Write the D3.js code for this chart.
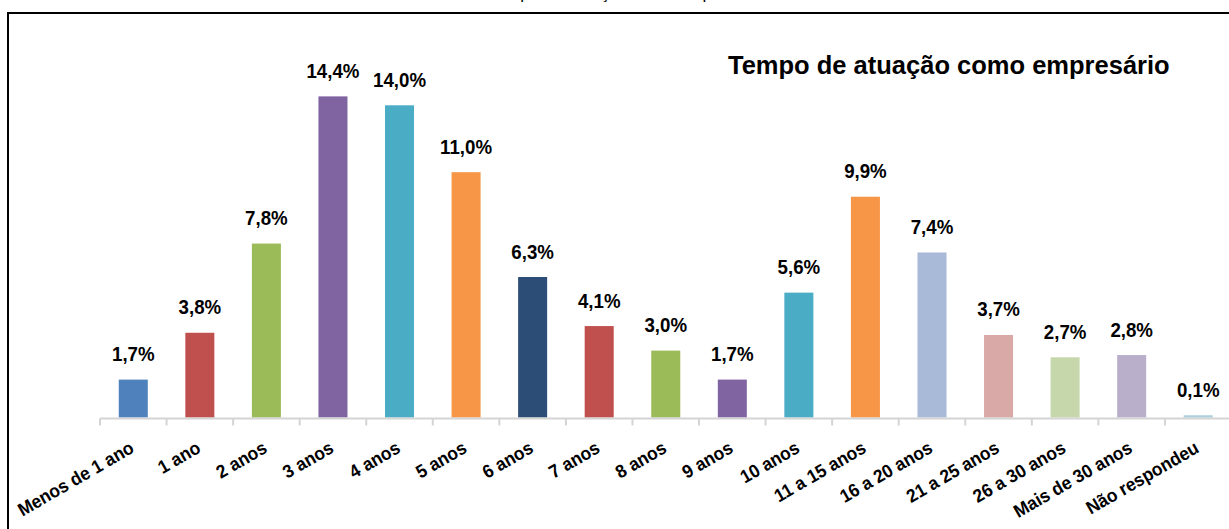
<!DOCTYPE html>
<html>
<head>
<meta charset="utf-8">
<script src="https://cdn.jsdelivr.net/npm/d3@7"></script>
<style>
  html, body { margin: 0; padding: 0; background: #fff; }
  svg { display: block; }
  text { font-family: "Liberation Sans", Arial, sans-serif; }
</style>
</head>
<body>
<svg id="chart" width="1229" height="529"></svg>
<script>
// Tempo de atuação como empresário — distribuição percentual
const categories = [
  "Menos de 1 ano", "1 ano", "2 anos", "3 anos", "4 anos", "5 anos",
  "6 anos", "7 anos", "8 anos", "9 anos", "10 anos", "11 a 15 anos",
  "16 a 20 anos", "21 a 25 anos", "26 a 30 anos", "Mais de 30 anos",
  "Não respondeu"
];
const values = [1.7, 3.8, 7.8, 14.4, 14.0, 11.0, 6.3, 4.1, 3.0, 1.7, 5.6, 9.9, 7.4, 3.7, 2.7, 2.8, 0.1];
const colors = [
  "#4F81BD", "#C0504D", "#9BBB59", "#8064A2", "#4BACC6", "#F79646",
  "#2C4D75", "#C0504D", "#9BBB59", "#8064A2", "#4BACC6", "#F79646",
  "#A9B9D8", "#D9A9A8", "#C6D7AB", "#B9AFCB", "#A8D0DD"
];
const figureCaption = "Gráfico 13 – Tempo de atuação como empresário";
const chartTitle = "Tempo de atuação como empresário";

const fmt = v => d3.format(".1f")(v).replace(".", ",") + "%";

const svg = d3.select("#chart");

// Caption sitting above the framed chart (runs off the top of the page)
svg.append("text")
  .attr("x", 764).attr("y", -1)
  .attr("text-anchor", "end")
  .attr("font-size", 17)
  .attr("fill", "#000")
  .text(figureCaption);

// Chart frame
svg.append("rect")
  .attr("x", 8).attr("y", 13)
  .attr("width", 1240).attr("height", 540)
  .attr("fill", "none")
  .attr("stroke", "#000")
  .attr("stroke-width", 2);

const x0 = 100, x1 = 1231.5, baseY = 417.5;

// Category slots (tick marks between categories) and bars inside them
const xSlot = d3.scaleBand().domain(categories).range([x0, x1]).padding(0);
const xBar = d3.scaleBand().domain(categories).range([x0, x1])
  .paddingInner(0.564).paddingOuter(0.282);
const y = d3.scaleLinear().domain([0, 16]).range([baseY, baseY - 16 * 22.3]);

// Bars
svg.append("g").selectAll("rect")
  .data(categories)
  .join("rect")
  .attr("x", d => xBar(d))
  .attr("width", xBar.bandwidth())
  .attr("y", (d, i) => y(values[i]))
  .attr("height", (d, i) => y(0) - y(values[i]))
  .attr("fill", (d, i) => colors[i]);

// Value labels (narrow bold face)
svg.append("g").selectAll("text")
  .data(categories)
  .join("text")
  .attr("transform", (d, i) =>
    `translate(${xBar(d) + xBar.bandwidth() / 2},${y(values[i]) - 18.5}) scale(0.89,1)`)
  .attr("text-anchor", "middle")
  .attr("font-size", 21)
  .attr("font-weight", "bold")
  .attr("fill", "#000")
  .text((d, i) => fmt(values[i]));

// Category axis
const axisG = svg.append("g");
axisG.append("line")
  .attr("x1", x0).attr("x2", x1)
  .attr("y1", baseY + 1).attr("y2", baseY + 1)
  .attr("stroke", "#D4D4D4").attr("stroke-width", 2);
axisG.selectAll("line.tick")
  .data(categories)
  .join("line")
  .attr("class", "tick")
  .attr("x1", d => xSlot(d)).attr("x2", d => xSlot(d))
  .attr("y1", baseY + 1).attr("y2", baseY + 8)
  .attr("stroke", "#D4D4D4").attr("stroke-width", 2);

axisG.selectAll("text")
  .data(categories)
  .join("text")
  .attr("transform", d =>
    `translate(${xSlot(d) + xSlot.bandwidth() / 2 + 2},${baseY + 34}) rotate(-30) scale(0.94,1)`)
  .attr("text-anchor", "end")
  .attr("font-size", 18.5)
  .attr("font-weight", "bold")
  .attr("fill", "#000")
  .text(d => d);

// Chart title
svg.append("text")
  .attr("x", 728).attr("y", 74)
  .attr("font-size", 25.5)
  .attr("font-weight", "bold")
  .attr("fill", "#000")
  .text(chartTitle);
</script>
</body>
</html>
